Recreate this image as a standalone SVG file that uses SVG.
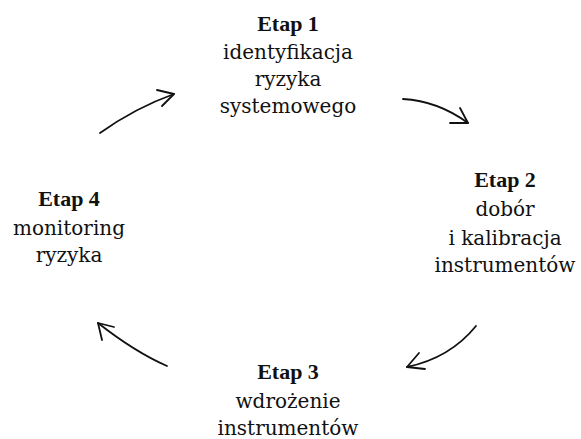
<svg xmlns="http://www.w3.org/2000/svg" width="581" height="439" viewBox="0 0 581 439">
<style>
text{font-family:"DejaVu Serif","Liberation Serif",serif;font-size:20px;fill:#111111;text-anchor:middle}
.h{font-family:"Liberation Serif","DejaVu Serif",serif;font-weight:bold;font-size:22px}
.a{fill:none;stroke:#111111;stroke-width:1.8;stroke-linecap:round;stroke-linejoin:round}
</style>
<rect width="581" height="439" fill="#ffffff"/>
<g id="etap1">
<text class="h" x="288" y="31">Etap 1</text>
<text x="288" y="59">identyfikacja</text>
<text x="288" y="86">ryzyka</text>
<text x="288" y="113">systemowego</text>
</g>
<g id="etap2">
<text class="h" x="505" y="187">Etap 2</text>
<text x="505" y="216">dobór</text>
<text x="505" y="245">i kalibracja</text>
<text x="505" y="272">instrumentów</text>
</g>
<g id="etap3">
<text class="h" x="288" y="379">Etap 3</text>
<text x="288" y="408">wdrożenie</text>
<text x="288" y="435">instrumentów</text>
</g>
<g id="etap4">
<text class="h" x="69" y="206">Etap 4</text>
<text x="69" y="235">monitoring</text>
<text x="69" y="262">ryzyka</text>
</g>
<g id="connectors">
<path class="a" d="M100,133 Q135,108 174,94"/>
<path class="a" d="M157,90 L174,94 L162,106"/>
<path class="a" d="M403,99 Q438,101 468,123"/>
<path class="a" d="M460,108 L468,123 L450,123"/>
<path class="a" d="M476,326 Q450,358 407,367"/>
<path class="a" d="M419,353 L407,367 L425,369"/>
<path class="a" d="M167,366 Q135,352 98,323"/>
<path class="a" d="M102,340 L98,323 L114,327"/>
</g>
</svg>
